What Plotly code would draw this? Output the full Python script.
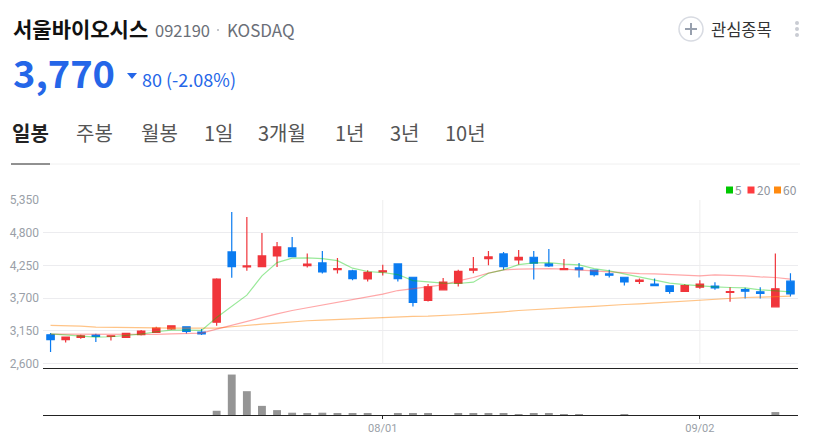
import plotly.graph_objects as go

W, H = 816, 441
FONT = "Noto Sans CJK KR, Noto Sans, sans-serif"

dates = ['07/02', '07/03', '07/04', '07/05', '07/08', '07/09', '07/10', '07/11', '07/12', '07/15',
         '07/16', '07/17', '07/18', '07/19', '07/22', '07/23', '07/24', '07/25', '07/26', '07/29',
         '07/30', '07/31', '08/01', '08/02', '08/05', '08/06', '08/07', '08/08', '08/09', '08/12',
         '08/13', '08/14', '08/16', '08/19', '08/20', '08/21', '08/22', '08/23', '08/26', '08/27',
         '08/28', '08/29', '08/30', '09/02', '09/03', '09/04', '09/05', '09/06', '09/09', '09/10']

opens = [3080, 2998, 3037, 3076, 3054, 3037, 3082, 3120, 3182, 3216,
         3126, 3294, 4476, 4224, 4230, 4409, 4543, 4246, 4291, 4179,
         4157, 4022, 4140, 4274, 4050, 3658, 3838, 3950, 4168, 4364,
         4442, 4342, 4386, 4274, 4179, 4207, 4168, 4106, 4050, 3978,
         3933, 3905, 3810, 3882, 3899, 3793, 3843, 3804, 3552, 3983]
highs = [3110, 3042, 3082, 3098, 3070, 3110, 3160, 3216, 3238, 3222,
         3177, 4034, 5148, 5064, 4795, 4644, 4728, 4448, 4493, 4375,
         4174, 4168, 4258, 4286, 4056, 3938, 4039, 4174, 4392, 4493,
         4476, 4510, 4493, 4526, 4358, 4291, 4179, 4174, 4056, 4028,
         4028, 3905, 3933, 4000, 3966, 3882, 3871, 3882, 4448, 4118]
lows = [2790, 2953, 3014, 2958, 2986, 3025, 3070, 3110, 3165, 3104,
        3076, 3233, 4040, 4157, 4230, 4224, 4398, 4213, 4112, 4112,
        4000, 3978, 4078, 3978, 3558, 3642, 3832, 3894, 4118, 4252,
        4174, 4263, 4011, 4224, 4174, 4045, 4062, 4045, 3910, 3938,
        3910, 3770, 3810, 3854, 3838, 3636, 3692, 3692, 3552, 3726]
closes = [3000, 3042, 3065, 3054, 3065, 3104, 3143, 3194, 3233, 3138,
          3098, 4017, 4230, 4241, 4409, 4560, 4398, 4269, 4140, 4196,
          4028, 4134, 4157, 4028, 3625, 3888, 3966, 4151, 4190, 4392,
          4230, 4386, 4286, 4241, 4196, 4179, 4095, 4084, 3972, 4000,
          3910, 3810, 3910, 3933, 3871, 3810, 3815, 3776, 3854, 3770]

ma5 = [3098, 3082, 3059, 3042, 3048, 3070, 3093, 3132, 3160, 3160,
       3154, 3373, 3558, 3748, 4073, 4297, 4370, 4375, 4364, 4330,
       4202, 4146, 4129, 4095, 3994, 3966, 3950, 3944, 3966, 4118,
       4174, 4263, 4291, 4297, 4269, 4258, 4196, 4157, 4106, 4062,
       4006, 3950, 3927, 3905, 3888, 3877, 3871, 3838, 3815, 3804]
ma20 = [3093, 3093, 3087, 3087, 3087, 3082, 3082, 3087, 3098, 3104,
        3110, 3177, 3244, 3306, 3367, 3434, 3490, 3535, 3586, 3625,
        3670, 3714, 3765, 3826, 3854, 3882, 3922, 3989, 4045, 4118,
        4174, 4185, 4190, 4196, 4185, 4168, 4151, 4140, 4123, 4112,
        4106, 4095, 4084, 4073, 4090, 4084, 4073, 4056, 4045, 4017]
ma60 = [3238, 3233, 3227, 3210, 3210, 3205, 3205, 3199, 3194, 3194,
        3188, 3194, 3216, 3244, 3261, 3278, 3300, 3317, 3328, 3339,
        3350, 3362, 3378, 3384, 3390, 3395, 3401, 3418, 3434, 3446,
        3468, 3490, 3507, 3518, 3535, 3546, 3558, 3580, 3591, 3602,
        3619, 3636, 3653, 3664, 3681, 3698, 3709, 3714, 3726, 3731]

volumes = [0, 0, 0, 0, 0, 0, 0, 0, 0, 0,
           0, 13, 124, 73, 28, 15, 7, 5, 7, 4,
           4, 4, 0, 4, 4, 4, 0, 4, 5, 5,
           5, 3, 4, 5, 3, 3, 0, 0, 3, 0,
           0, 0, 0, 0, 0, 0, 0, 0, 9, 0]

price_ticks = [2600, 3150, 3700, 4250, 4800, 5350]
date_ticks = ['08/01', '09/02']
legend_names = ['5', '20', '60']
legend_colors = ['#00c800', '#ff3b3f', '#ff8a10']

RED = '#f0353b'
BLUE = '#0a7bf0'


def px(x):
    return x / W


def py(y):
    return 1 - y / H


fig = go.Figure()

fig.add_trace(go.Candlestick(
    x=dates, open=opens, high=highs, low=lows, close=closes,
    increasing=dict(line=dict(color=RED, width=1.2), fillcolor=RED),
    decreasing=dict(line=dict(color=BLUE, width=1.2), fillcolor=BLUE),
    whiskerwidth=0, xaxis='x', yaxis='y', showlegend=False,
))
for vals, color in zip([ma60, ma20, ma5], ['rgba(255,138,16,0.5)', 'rgba(255,59,63,0.45)', 'rgba(0,200,0,0.4)']):
    fig.add_trace(go.Scatter(x=dates, y=vals, mode='lines', line=dict(color=color, width=1.2),
                             xaxis='x', yaxis='y', showlegend=False))
fig.add_trace(go.Bar(x=dates, y=volumes, marker=dict(color='#959595', line=dict(width=0)),
                     xaxis='x2', yaxis='y2', showlegend=False))

# vertical grid stops at the lowest price tick, so not the axis grid
for d in date_ticks:
    fig.add_shape(type='line', x0=d, x1=d, y0=price_ticks[0], y1=price_ticks[-1], xref='x', yref='y',
                  line=dict(color='#eeeeee', width=1), layer='below')

anns = []


def text(x, y, s, size, color, bold=False, anchor='left'):
    if bold:
        s = '<b>' + s + '</b>'
    anns.append(dict(x=px(x), y=py(y), xref='paper', yref='paper', text=s, showarrow=False,
                     xanchor=anchor, yanchor='middle', align='left', borderpad=0, borderwidth=0,
                     font=dict(family=FONT, size=size, color=color)))


text(13, 28, '서울바이오시스', 21, '#111111', bold=True)
text(155, 30, '092190', 16.5, '#6b6f78')
text(227, 30, 'KOSDAQ', 17, '#6b6f78')
text(13, 72, '3,770', 38, '#2566e8', bold=True)
text(142, 79, '80 (-2.08%)', 18, '#2566e8')
text(12, 132, '일봉', 20, '#222222', bold=True)
for x, s in zip([76, 141, 204, 258, 335, 390, 445], ['주봉', '월봉', '1일', '3개월', '1년', '3년', '10년']):
    text(x, 132, s, 20, '#555555')
text(711, 29, '관심종목', 16.5, '#333333')

shapes = [
    dict(type='rect', x0=px(217), x1=px(219), y0=py(29), y1=py(31), xref='paper', yref='paper',
         fillcolor='#c4c7cc', line_width=0),
    dict(type='path', path=f'M {px(127)} {py(73)} L {px(137)} {py(73)} L {px(132)} {py(79)} Z',
         xref='paper', yref='paper', fillcolor='#2566e8', line_width=0),
    dict(type='line', x0=px(11), x1=px(50), y0=py(164), y1=py(164), xref='paper', yref='paper',
         line=dict(color='#222222', width=1)),
    dict(type='line', x0=px(50), x1=px(800), y0=py(164), y1=py(164), xref='paper', yref='paper',
         line=dict(color='#f0f0f0', width=1)),
    dict(type='circle', x0=px(679), x1=px(703), y0=py(17), y1=py(41), xref='paper', yref='paper',
         line=dict(color='#d8dbe2', width=1.5)),
    dict(type='line', x0=px(685), x1=px(697), y0=py(29), y1=py(29), xref='paper', yref='paper',
         line=dict(color='#98a0ae', width=2)),
    dict(type='line', x0=px(691), x1=px(691), y0=py(23), y1=py(35), xref='paper', yref='paper',
         line=dict(color='#98a0ae', width=2)),
]
for y in [23, 29, 35]:
    shapes.append(dict(type='circle', x0=px(795), x1=px(799), y0=py(y - 2), y1=py(y + 2),
                       xref='paper', yref='paper', fillcolor='#c9ccd3', line_width=0))
for x, name, color in zip([726, 747.5, 774], legend_names, legend_colors):
    shapes.append(dict(type='rect', x0=px(x), x1=px(x + 7), y0=py(186.5), y1=py(193.5),
                       xref='paper', yref='paper', fillcolor=color, line_width=0))
    text(x + 9, 190, name, 12, '#8f949c')
for s in shapes:
    fig.add_shape(**s)

fig.update_layout(
    width=W, height=H, margin=dict(l=0, r=0, t=0, b=0, pad=0, autoexpand=False),
    paper_bgcolor='white', plot_bgcolor='white',
    bargap=0.48, hovermode=False, annotations=anns,
    xaxis=dict(domain=[px(43), px(798)], type='category', categoryorder='array', categoryarray=dates,
               range=[-0.5, 49.5], rangeslider=dict(visible=False), showticklabels=False, ticks='',
               showgrid=False, showline=True, linecolor='#222222', linewidth=1, anchor='y'),
    yaxis=dict(domain=[py(368), py(200)], range=[2522, 5350], tickvals=price_ticks, tickformat=',',
               tickfont=dict(family='Roboto', size=12, color='#9a9fa8'), gridcolor='#ececef', gridwidth=1,
               zeroline=False, showline=False, ticks='', ticklabelstandoff=3, anchor='x'),
    xaxis2=dict(domain=[px(43), px(798)], type='category', categoryorder='array', categoryarray=dates,
                range=[-0.5, 49.5], tickvals=date_ticks, ticktext=date_ticks, ticks='outside', ticklen=3,
                tickcolor='#222222', tickfont=dict(family='Roboto', size=11, color='#9a9fa8'),
                showgrid=False, showline=True, linecolor='#222222', linewidth=1, anchor='y2'),
    yaxis2=dict(domain=[py(415), py(369)], range=[0, 141], showticklabels=False, showgrid=False,
                zeroline=False, ticks='', anchor='x2'),
)

# drop the browser's default body margin so the figure sits at 0,0
fig.write_html("out.html", config={'displayModeBar': False},
               post_script="document.body.style.margin='0';")
